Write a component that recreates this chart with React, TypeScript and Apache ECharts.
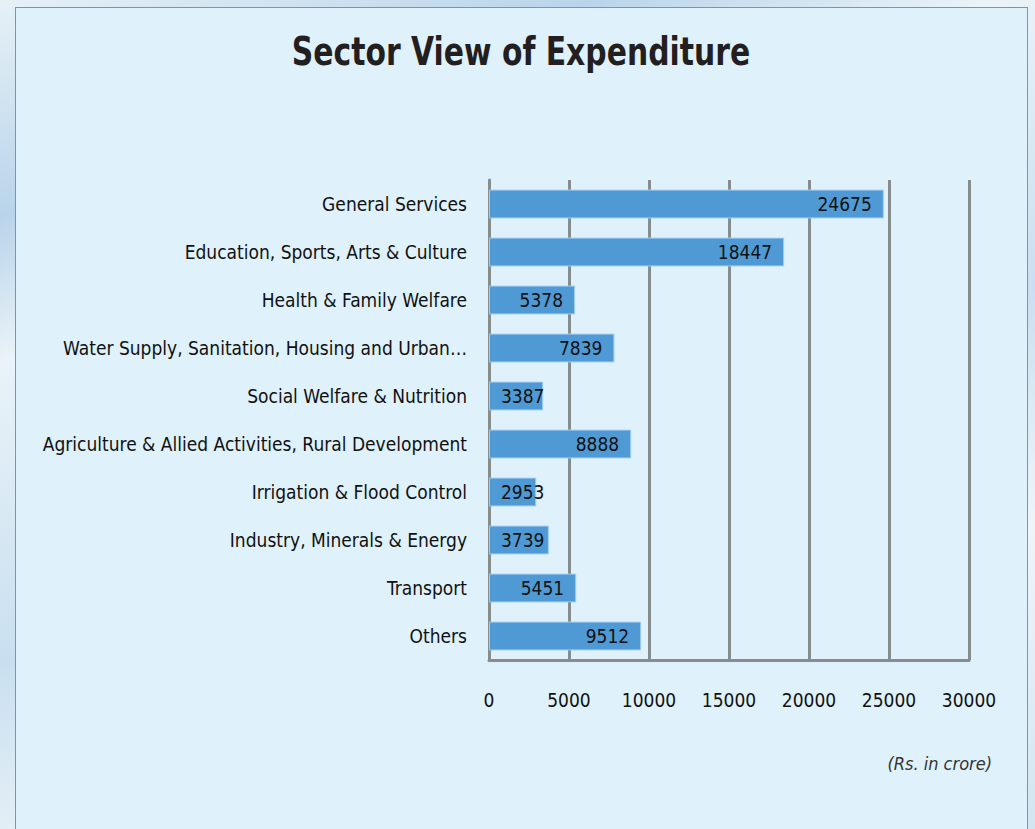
import React, { useEffect, useRef } from "react";
import * as echarts from "echarts";

const categories = [
  "General Services",
  "Education, Sports, Arts & Culture",
  "Health & Family Welfare",
  "Water Supply, Sanitation, Housing and Urban…",
  "Social Welfare & Nutrition",
  "Agriculture & Allied Activities, Rural Development",
  "Irrigation & Flood Control",
  "Industry, Minerals & Energy",
  "Transport",
  "Others",
];
const values = [24675, 18447, 5378, 7839, 3387, 8888, 2953, 3739, 5451, 9512];
const axisMin = 0;
const axisMax = 30000;
const axisStep = 5000;

const FONT = "'Liberation Sans Narrow', 'DejaVu Sans Condensed', 'Open Sans', sans-serif";

export default function App() {
  const ref = useRef<HTMLDivElement>(null);
  useEffect(() => {
    if (!ref.current) return;
    const chart = echarts.init(ref.current, undefined, { renderer: "svg" });
    const data = values.map((v) => {
      const small = v < 4250;
      return {
        value: v,
        label: small
          ? { position: "insideLeft", distance: 12 }
          : { position: "insideRight", distance: 12 },
      };
    });
    chart.setOption({
      animation: false,
      backgroundColor: "transparent",
      graphic: [
        {
          type: "text",
          x: 521,
          y: 52,
          scaleX: 0.85,
          style: {
            text: "Sector View of Expenditure",
            font: "bold 39px " + FONT,
            fill: "#231f20",
            align: "center",
            verticalAlign: "middle",
          },
        },
        {
          type: "text",
          x: 992,
          y: 763,
          style: {
            text: "(Rs. in crore)",
            font: "italic 18px " + FONT,
            fill: "#333",
            align: "right",
            verticalAlign: "middle",
          },
        },
      ],
      grid: { left: 489, right: 66, top: 180, bottom: 169 },
      xAxis: {
        type: "value",
        min: axisMin,
        max: axisMax,
        interval: axisStep,
        axisLine: { show: true, lineStyle: { color: "#878c8f", width: 3 } },
        axisTick: { show: false },
        axisLabel: {
          margin: 30,
          fontFamily: FONT,
          fontSize: 19,
          color: "#111",
          formatter: (v: number) => String(v),
        },
        splitLine: { show: true, lineStyle: { color: "#878c8f", width: 3 } },
      },
      yAxis: {
        type: "category",
        inverse: true,
        data: categories,
        axisLine: { show: true, lineStyle: { color: "#878c8f", width: 3 } },
        axisTick: { show: false },
        axisLabel: {
          margin: 22,
          fontFamily: FONT,
          fontSize: 19,
          color: "#111",
        },
      },
      series: [
        {
          type: "bar",
          data,
          barCategoryGap: "40%",
          itemStyle: { color: "#4f9ad5", borderColor: "#9fcdee", borderWidth: 1 },
          label: {
            show: true,
            fontFamily: FONT,
            fontSize: 19,
            color: "#111",
          },
        },
      ],
    });
    return () => chart.dispose();
  }, []);

  return (
    <div
      style={{
        position: "absolute",
        left: 0,
        top: 0,
        width: 1035,
        height: 829,
        overflow: "hidden",
        background:
          "linear-gradient(160deg, #e6f1f7 0%, #b9d4ea 18%, #e9f3f8 30%, #c9dff0 55%, #eef5f9 75%, #d2e5f1 100%)",
      }}
    >
      <div
        style={{
          position: "absolute",
          left: 15,
          top: 7,
          width: 1013,
          height: 830,
          background: "#dff1fb",
          border: "1px solid #2fb0ee",
          boxSizing: "border-box",
        }}
      />
      <div ref={ref} style={{ position: "absolute", left: 0, top: 0, width: 1035, height: 829 }} />
    </div>
  );
}
